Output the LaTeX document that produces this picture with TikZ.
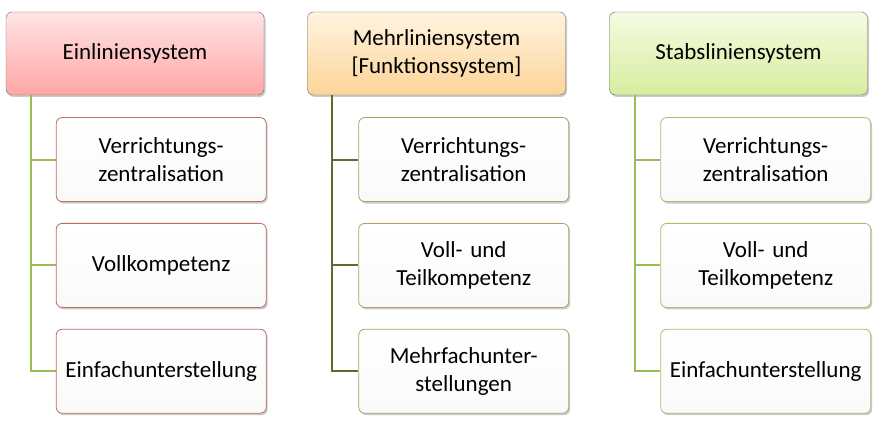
\documentclass[tikz,border=0pt]{standalone}
\usepackage{fontspec}
\setmainfont{Carlito}
\usepackage{xcolor}
\definecolor{rosetop}{RGB}{255,228,228}
\definecolor{rosebot}{RGB}{255,166,166}
\definecolor{sandtop}{RGB}{255,244,224}
\definecolor{sandbot}{RGB}{252,212,152}
\definecolor{limetop}{RGB}{246,251,226}
\definecolor{limebot}{RGB}{214,237,158}
\definecolor{frame}{RGB}{105,105,105}
\definecolor{rust}{RGB}{190,110,96}
\definecolor{khaki}{RGB}{180,160,100}
\definecolor{moss}{RGB}{172,190,106}
\definecolor{leaf}{RGB}{155,187,89}
\definecolor{olive}{RGB}{88,110,44}
\usepackage{tikz}
\usetikzlibrary{positioning,shadows}
\tikzset{
  %% top boxes
  headbox/.style={rounded corners=6pt, draw=frame, thin,
    minimum width=258pt, minimum height=83pt,
    text width=240pt, align=center,
    drop shadow={shadow xshift=1.5pt, shadow yshift=-2pt, opacity=.4},
    font=\fontsize{23}{28}\selectfont},
  %% boxes below
  itembox/.style={rounded corners=6pt, thick,
    minimum width=210pt, minimum height=84pt,
    text width=200pt, align=center,
    top color=white, bottom color=black!2,
    drop shadow={shadow xshift=1.5pt, shadow yshift=-2pt, opacity=.4},
    font=\fontsize{23}{28}\selectfont},
  branch/.style={line width=2pt},
}

\begin{document}
\begin{tikzpicture}
\useasboundingbox (0,0) rectangle (882pt,423pt);
\fill[white] (0,0) rectangle (882pt,423pt);

% Einliniensystem
\node[headbox, top color=rosetop, bottom color=rosebot] (ein) at (135pt,369.5pt) {Einliniensystem};
\coordinate (ein-top) at ([xshift=25pt]ein.south west);
\node[itembox, draw=rust, below=22pt of ein.south west, anchor=north west, xshift=50pt] (ein1) {Verrichtungs-\\zentralisation};
\node[itembox, draw=rust, below=21pt of ein1] (ein2) {Vollkompetenz};
\node[itembox, draw=rust, below=21pt of ein2] (ein3) {Einfachunterstellung};

% Mehrliniensystem
\node[headbox, top color=sandtop, bottom color=sandbot] (mehr) at (436.5pt,369.5pt) {Mehrliniensystem\\{[}Funktionssystem{]}};
\coordinate (mehr-top) at ([xshift=25pt]mehr.south west);
\node[itembox, draw=khaki, below=22pt of mehr.south west, anchor=north west, xshift=51pt] (mehr1) {Verrichtungs-\\zentralisation};
\node[itembox, draw=khaki, below=21pt of mehr1] (mehr2) {Voll- und\\Teilkompetenz};
\node[itembox, draw=khaki, below=21pt of mehr2] (mehr3) {Mehrfachunter-\\stellungen};

% Stabsliniensystem
\node[headbox, top color=limetop, bottom color=limebot] (stab) at (738.5pt,369.5pt) {Stabsliniensystem};
\coordinate (stab-top) at ([xshift=26pt]stab.south west);
\node[itembox, draw=moss, below=22pt of stab.south west, anchor=north west, xshift=51pt] (stab1) {Verrichtungs-\\zentralisation};
\node[itembox, draw=moss, below=21pt of stab1] (stab2) {Voll- und\\Teilkompetenz};
\node[itembox, draw=moss, below=21pt of stab2] (stab3) {Einfachunterstellung};

% connectors
\foreach \n in {1,2,3} {
  \draw[branch, leaf] (ein-top) |- (ein\n.west);
  \draw[branch, olive] (mehr-top) |- (mehr\n.west);
  \draw[branch, leaf] (stab-top) |- (stab\n.west);
}
\end{tikzpicture}
\end{document}
